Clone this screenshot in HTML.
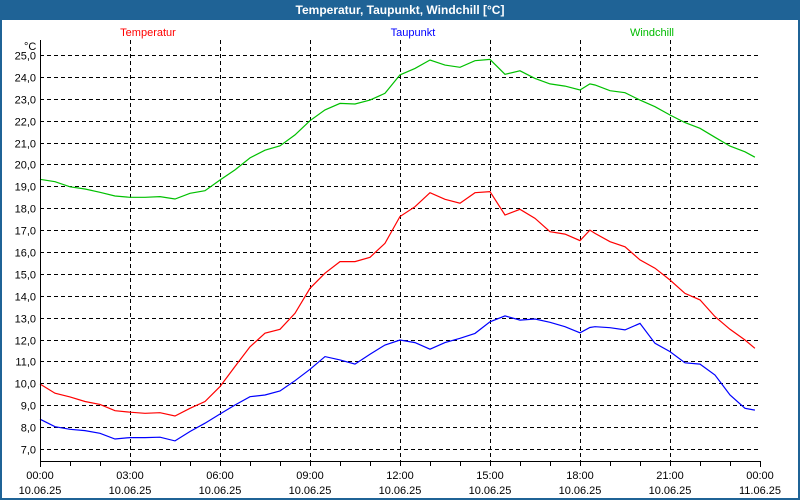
<!DOCTYPE html>
<html><head><meta charset="utf-8">
<style>
html,body{margin:0;padding:0;background:#fff;}
#wrap{position:relative;width:800px;height:500px;overflow:hidden;font-family:"Liberation Sans",sans-serif;}
</style></head>
<body>
<div id="wrap">
<svg id="chart" width="800" height="500" xmlns="http://www.w3.org/2000/svg">
  <rect x="0" y="0" width="800" height="500" fill="#1f6396"/>
  <rect x="2" y="20" width="796" height="478" fill="#ffffff"/>
  <text x="400" y="14" fill="#fff" font-size="12" font-weight="bold" text-anchor="middle">Temperatur, Taupunkt, Windchill [°C]</text>
  <text x="148" y="36" fill="#ff0000" font-size="11" text-anchor="middle">Temperatur</text>
  <text x="413" y="36" fill="#0000ff" font-size="11" text-anchor="middle">Taupunkt</text>
  <text x="652" y="36" fill="#00bb00" font-size="11" text-anchor="middle">Windchill</text>
  <text x="24" y="50" fill="#000" font-size="11">°C</text>
  <g id="grid"></g><g id="series"></g><g id="axes"></g>
</svg>
</div>
<script>
const hours = [0,0.5,1,1.5,2,2.5,3,3.5,4,4.5,5,5.5,6,6.5,7,7.5,8,8.5,9,9.5,10,10.5,11,11.5,12,12.5,13,13.5,14,14.5,15,15.5,16,16.5,17,17.5,18,18.33,18.5,19,19.5,20,20.5,21,21.5,22,22.5,23,23.5,23.83];
const temperatur = [9.97,9.55,9.38,9.17,9.04,8.75,8.68,8.63,8.66,8.51,8.86,9.17,9.85,10.77,11.67,12.29,12.47,13.2,14.34,15.03,15.56,15.56,15.76,16.4,17.62,18.07,18.71,18.41,18.23,18.71,18.76,17.69,17.95,17.54,16.93,16.82,16.52,17.0,16.85,16.47,16.24,15.64,15.26,14.72,14.11,13.81,13.05,12.47,11.98,11.6];
const taupunkt = [8.36,8.02,7.9,7.84,7.72,7.46,7.52,7.52,7.54,7.37,7.8,8.18,8.6,9.01,9.39,9.47,9.65,10.12,10.64,11.22,11.07,10.88,11.33,11.75,11.98,11.86,11.56,11.86,12.06,12.28,12.81,13.08,12.89,12.94,12.79,12.59,12.31,12.55,12.59,12.54,12.44,12.74,11.83,11.45,10.94,10.88,10.38,9.47,8.86,8.78];
const windchill = [19.32,19.21,18.98,18.88,18.73,18.56,18.5,18.5,18.53,18.42,18.68,18.8,19.29,19.75,20.3,20.65,20.85,21.35,22.0,22.49,22.79,22.76,22.94,23.25,24.09,24.39,24.77,24.54,24.44,24.74,24.8,24.12,24.28,23.93,23.68,23.58,23.4,23.68,23.63,23.37,23.28,22.94,22.64,22.26,21.91,21.65,21.24,20.84,20.58,20.33];
const yTicks = [7,8,9,10,11,12,13,14,15,16,17,18,19,20,21,22,23,24,25];
const xTickHours = [0,3,6,9,12,15,18,21,24];
const xTimeLabels = ["00:00","03:00","06:00","09:00","12:00","15:00","18:00","21:00","00:00"];
const xDateLabels = ["10.06.25","10.06.25","10.06.25","10.06.25","10.06.25","10.06.25","10.06.25","10.06.25","11.06.25"];

const NS="http://www.w3.org/2000/svg";
const X0=40,X1=760,Y0=40,Y1=461;
function xs(h){return X0+(X1-X0)*h/24;}
function ys(v){return 55+(25-v)*21.89;}
function mk(tag,attrs,parent){const e=document.createElementNS(NS,tag);for(const k in attrs)e.setAttribute(k,attrs[k]);parent.appendChild(e);return e;}
const grid=document.getElementById('grid'),series=document.getElementById('series'),axes=document.getElementById('axes');
yTicks.forEach(v=>{
  const y=Math.round(ys(v))+0.5;
  const l=mk('line',{x1:X0,x2:X1,y1:y,y2:y,stroke:'#000','stroke-dasharray':'4,3','stroke-width':1},grid);
  
  
  const t=mk('text',{x:36,y:y+4,'font-size':11,'text-anchor':'end',fill:'#000'},axes);
  t.textContent=v.toFixed(1).replace('.',',');
  
  
});
xTickHours.forEach((h,i)=>{
  const x=Math.round(xs(h))+0.5;
  if(h>0&&h<24){
    const l=mk('line',{x1:x,x2:x,y1:Y0,y2:Y1+6,stroke:'#000','stroke-dasharray':'4,3','stroke-width':1},grid);
    
    
  }
  const t1=mk('text',{x:xs(h),y:479,'font-size':11,'text-anchor':'middle',fill:'#000'},axes);
  t1.textContent=xTimeLabels[i];
  
  
  const t2=mk('text',{x:xs(h),y:494,'font-size':11,'text-anchor':'middle',fill:'#000'},axes);
  t2.textContent=xDateLabels[i];
  
  
});
for(let h=1;h<24;h++){
  const x=Math.round(xs(h))+0.5;
  const l=mk('line',{x1:x,x2:x,y1:Y1,y2:Y1+5,stroke:'#000','stroke-width':1},axes);
  
  
}
const ax=mk('path',{d:`M${X0+0.5},${Y0} V${Y1+0.5} H${X1+0.5} V${Y1+6}`,stroke:'#000',fill:'none','stroke-width':1},axes);


const ax2=mk('line',{x1:X0+0.5,x2:X0+0.5,y1:Y1,y2:Y1+6,stroke:'#000'},axes);


function line(vals,color,name){
  const d=vals.map((v,i)=>(i?'L':'M')+xs(hours[i]).toFixed(1)+','+ys(v).toFixed(1)).join(' ');
  const p=mk('path',{d:d,stroke:color,fill:'none','stroke-width':1.2},series);
  
  
}
line(windchill,'#00c000','windchill-line');
line(temperatur,'#ff0000','temperatur-line');
line(taupunkt,'#0000ff','taupunkt-line');
</script>
</body></html>
